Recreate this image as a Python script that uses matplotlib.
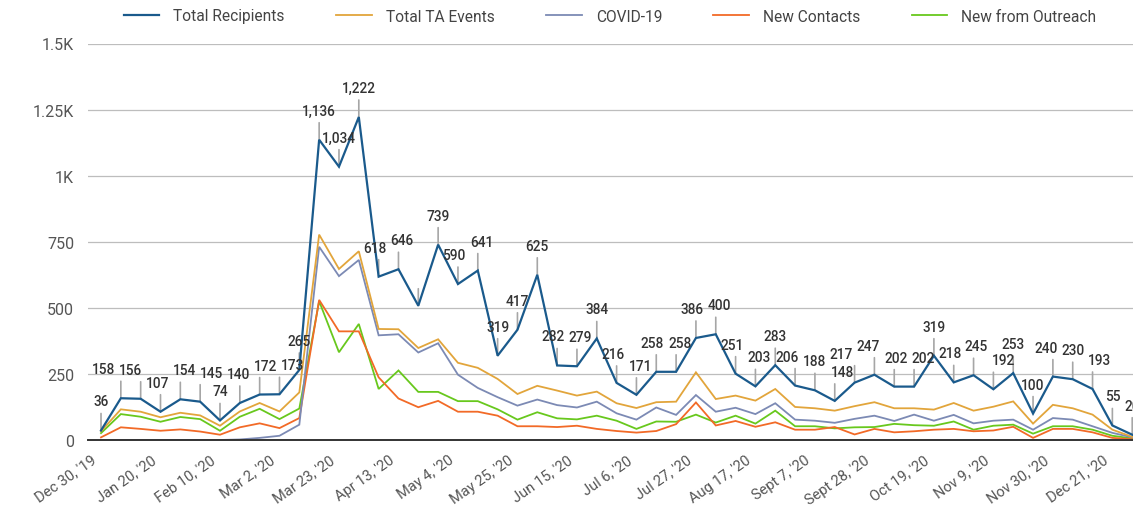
import matplotlib
matplotlib.use("Agg")
import matplotlib.pyplot as plt
from matplotlib.transforms import ScaledTranslation
import numpy as np

plt.rcParams['font.family'] = ['Roboto', 'DejaVu Sans']

# ---- data (weekly, Dec 30 '19 .. Dec 28 '20) ----
total_recipients = [36, 158, 156, 107, 154, 145, 74, 140, 172, 173,
                    265, 1136, 1034, 1222, 618, 646, 508, 739, 590, 641,
                    319, 417, 625, 282, 279, 384, 216, 171, 258, 258,
                    386, 400, 251, 203, 283, 206, 188, 148, 217, 247,
                    202, 202, 319, 218, 245, 192, 253, 100, 240, 230,
                    193, 55, 20]
total_ta_events = [33, 116, 107, 86, 103, 93, 54, 108, 140, 108,
                   180, 777, 647, 714, 420, 419, 348, 381, 292, 273,
                   231, 174, 205, 187, 168, 183, 139, 121, 143, 145,
                   256, 155, 168, 149, 193, 125, 120, 111, 128, 143,
                   120, 120, 115, 140, 111, 126, 146, 62, 133, 120,
                   96, 39, 12]
covid_19 = [0, 0, 0, 0, 0, 0, 0, 2, 8, 16,
            58, 731, 620, 681, 396, 400, 331, 366, 247, 197,
            162, 130, 153, 132, 123, 145, 101, 77, 123, 95,
            170, 107, 122, 98, 139, 77, 73, 65, 80, 92,
            72, 96, 73, 95, 63, 73, 77, 39, 83, 77,
            52, 27, 10]
new_contacts = [10, 48, 42, 35, 40, 32, 20, 48, 63, 45,
                83, 530, 411, 411, 237, 157, 124, 148, 107, 107,
                92, 52, 52, 49, 54, 42, 34, 28, 34, 60,
                142, 55, 72, 50, 67, 39, 39, 49, 21, 42,
                29, 33, 39, 42, 33, 36, 50, 8, 42, 42,
                29, 8, 3]
new_from_outreach = [26, 98, 88, 69, 87, 79, 35, 88, 118, 79,
                     119, 525, 332, 439, 193, 263, 182, 182, 147, 147,
                     116, 77, 105, 82, 78, 92, 73, 42, 70, 69,
                     96, 66, 92, 62, 111, 52, 52, 44, 48, 49,
                     61, 56, 54, 70, 39, 54, 58, 24, 52, 52,
                     39, 16, 6]
# data labels shown for Total Recipients ('' = hidden label)
recipient_labels = [f"{v:,}" for v in total_recipients]
recipient_labels[16] = ''

tick_labels = ["Dec 30, '19", "Jan 20, '20", "Feb 10, '20", "Mar 2, '20",
               "Mar 23, '20", "Apr 13, '20", "May 4, '20", "May 25, '20",
               "Jun 15, '20", "Jul 6, '20", "Jul 27, '20", "Aug 17, '20",
               "Sept 7, '20", "Sept 28, '20", "Oct 19, '20", "Nov 9, '20",
               "Nov 30, '20", "Dec 21, '20"]
y_ticks = [0, 250, 500, 750, 1000, 1250, 1500]
y_tick_labels = ['0', '250', '500', '750', '1K', '1.25K', '1.5K']

series = [
    ("Total Recipients", total_recipients, '#1a5a8c', 1.6),
    ("Total TA Events", total_ta_events, '#e2a53b', 1.3),
    ("COVID-19", covid_19, '#7c8ab4', 1.3),
    ("New Contacts", new_contacts, '#f26a27', 1.3),
    ("New from Outreach", new_from_outreach, '#68c81d', 1.3),
]

W, H = 1133, 510
fig = plt.figure(figsize=(W / 100, H / 100), dpi=100)
ax = fig.add_axes([88 / W, 69 / H, 1045 / W, 396.5 / H])

x = np.arange(len(total_recipients))
handles = []
for name, vals, col, lw in reversed(series):
    h, = ax.plot(x, vals, color=col, lw=lw, label=name, zorder=3,
                 solid_joinstyle='miter')
    handles.append(h)
handles = handles[::-1]

px = 0.72  # points per pixel
anns = []
for xi, v, lab in zip(x, total_recipients, recipient_labels):
    ax.annotate('', xy=(xi, v), xytext=(0, 17 * px), textcoords='offset points',
                arrowprops=dict(arrowstyle='-', color='#a6a6a6', lw=1.2,
                                shrinkA=0, shrinkB=0), zorder=2)
    if lab:
        a = ax.annotate(lab, xy=(xi, v), xytext=(0, 25 * px), textcoords='offset points',
                        ha='center', va='baseline', fontsize=9.8, fontweight='medium',
                        color='#333333', zorder=4, annotation_clip=False)
        anns.append(a)

ax.set_xlim(-0.656, 52.04)
ax.set_ylim(0, 1500)
ax.set_yticks(y_ticks)
ax.set_yticklabels(y_tick_labels, fontsize=11.5, color='#555555')
ax.set_xticks(x[::3])
ax.tick_params(axis='both', length=0)
ax.tick_params(axis='x', pad=9)
ax.tick_params(axis='y', pad=10)
ax.set_xticklabels(tick_labels, rotation=35, ha='right', rotation_mode='anchor',
                   fontsize=10.5, color='#555555')
shift = ScaledTranslation(-10 / 100, 0, fig.dpi_scale_trans)
for t in ax.get_xticklabels():
    t.set_transform(t.get_transform() + shift)
ax.grid(axis='y', color='#bdbdbd', lw=0.9)
ax.set_axisbelow(True)
for s in ['top', 'right', 'left']:
    ax.spines[s].set_visible(False)
ax.spines['bottom'].set_color('#333333')
ax.spines['bottom'].set_linewidth(1.4)
ax.spines['bottom'].set_zorder(5)

fig.legend(handles=handles, loc='center', bbox_to_anchor=(610 / W, 1 - 17 / H),
           ncol=5, frameon=False, fontsize=11.2, handlelength=2.3,
           handletextpad=0.9, columnspacing=3.3, labelcolor='#444444')

# push apart nearby data labels that collide (as the original renderer does)
fig.canvas.draw()
r = fig.canvas.get_renderer()
gap = 4
for _ in range(80):
    moved = False
    boxes = [a.get_window_extent(r) for a in anns]
    for k in range(len(anns)):
        for j in range(k + 1, min(k + 4, len(anns))):
            b0, b1 = boxes[k], boxes[j]
            if b0.y1 + 1 > b1.y0 and b1.y1 + 1 > b0.y0:
                need = b0.x1 + gap - b1.x0
                if need > 0.5:
                    dx0, dy0 = anns[k].xyann
                    dx1, dy1 = anns[j].xyann
                    anns[k].xyann = (dx0 - need / 2 * px, dy0)
                    anns[j].xyann = (dx1 + need / 2 * px, dy1)
                    moved = True
    if not moved:
        break

fig.savefig('out.png', dpi=100)
